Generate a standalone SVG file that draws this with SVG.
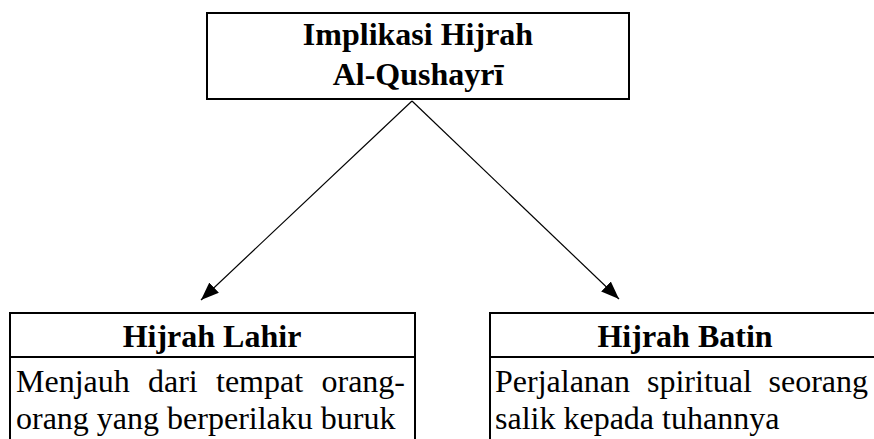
<svg xmlns="http://www.w3.org/2000/svg" width="874" height="439" viewBox="0 0 874 439">
<style>
.box{fill:#fff;stroke:#000;stroke-width:2}
.div{stroke:#000;stroke-width:2}
.t{font-family:"Liberation Serif","Times New Roman",serif;font-size:32px;fill:#000}
.b{font-weight:bold}
.c{text-anchor:middle}
.e{text-anchor:end}
.conn{stroke:#000;stroke-width:1.2;fill:none}
</style>
<defs>
<marker id="ah" viewBox="0 0 18 14" refX="18" refY="7" markerWidth="18" markerHeight="14" markerUnits="userSpaceOnUse" orient="auto">
<path d="M0,0 L18,7 L0,14 Z" fill="#000"/>
</marker>
</defs>
<rect width="874" height="439" fill="#fff"/>
<g id="connectors">
<line class="conn" x1="412" y1="101" x2="201" y2="300" marker-end="url(#ah)"/>
<line class="conn" x1="412" y1="101" x2="619" y2="299" marker-end="url(#ah)"/>
</g>
<g id="node-top">
<rect class="box" x="207" y="13" width="422" height="86"/>
<text class="t b c" x="418" y="45">Implikasi Hijrah</text>
<text class="t b c" x="418" y="85">Al-Qushayrī</text>
</g>
<g id="node-lahir">
<rect class="box" x="10" y="313" width="405" height="200"/>
<line class="div" x1="10" y1="357" x2="415" y2="357"/>
<text class="t b c" x="212" y="347">Hijrah Lahir</text>
<text class="t" y="392"><tspan x="16">Menjauh</tspan><tspan x="148">dari</tspan><tspan x="216">tempat</tspan></text>
<text class="t e" x="405" y="392">orang-</text>
<text class="t" x="16" y="429">orang yang berperilaku buruk</text>
</g>
<g id="node-batin">
<rect class="box" x="490" y="313" width="400" height="200"/>
<line class="div" x1="490" y1="357" x2="880" y2="357"/>
<text class="t b c" x="685" y="347">Hijrah Batin</text>
<text class="t" y="392"><tspan x="495">Perjalanan</tspan><tspan x="647">spiritual</tspan></text>
<text class="t e" x="868" y="392">seorang</text>
<text class="t" x="495" y="429">salik kepada tuhannya</text>
</g>
</svg>
